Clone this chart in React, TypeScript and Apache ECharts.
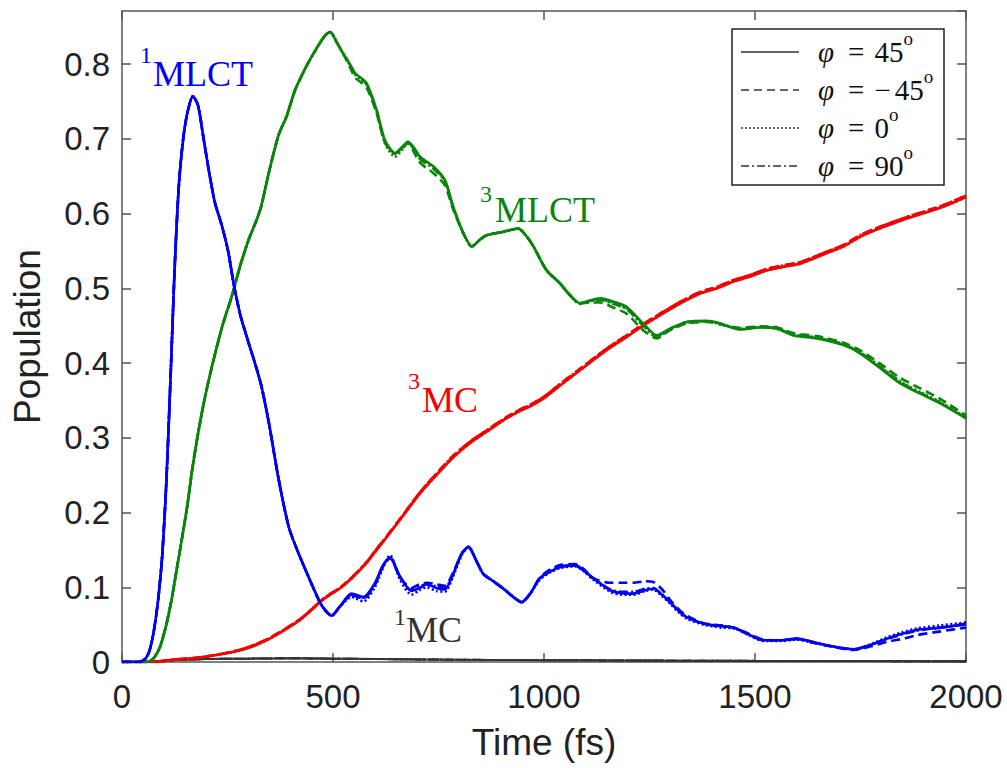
import React, { useEffect, useRef } from "react";
import * as echarts from "echarts";

// ---------- data ----------
const xTicks = [0, 500, 1000, 1500, 2000];

// 1MLCT (blue)
const T_1MLCT = [0, 40, 55, 65, 75, 85, 95, 105, 115, 125, 135, 145, 155, 168, 180, 192, 205, 220, 236, 251, 265, 280, 300, 315, 330, 348, 371, 395, 415, 435, 455, 474, 497, 516, 544, 572, 599, 617, 635, 659, 686, 705, 722, 745, 765, 785, 805, 821, 840, 856, 880, 904, 925, 947, 968, 990, 1015, 1040, 1074, 1095, 1117, 1157, 1185, 1212, 1240, 1259, 1280, 1299, 1320, 1338, 1378, 1420, 1449, 1485, 1520, 1560, 1599, 1635, 1670, 1734, 1775, 1813, 1850, 1884, 1940, 2000];
const MLCT1_P45 = [0, 0, 0.004, 0.015, 0.04, 0.08, 0.14, 0.24, 0.38, 0.53, 0.64, 0.7, 0.735, 0.757, 0.745, 0.705, 0.66, 0.615, 0.585, 0.551, 0.505, 0.465, 0.427, 0.4, 0.37, 0.32, 0.245, 0.181, 0.15, 0.123, 0.097, 0.075, 0.062, 0.074, 0.0915, 0.087, 0.105, 0.128, 0.14, 0.114, 0.095, 0.099, 0.104, 0.099, 0.097, 0.118, 0.145, 0.154, 0.135, 0.118, 0.108, 0.098, 0.088, 0.08, 0.092, 0.112, 0.121, 0.127, 0.129, 0.122, 0.112, 0.096, 0.092, 0.0915, 0.096, 0.098, 0.09, 0.08, 0.068, 0.06, 0.0514, 0.048, 0.046, 0.037, 0.029, 0.029, 0.0313, 0.027, 0.0224, 0.017, 0.023, 0.0313, 0.038, 0.043, 0.046, 0.051];
const MLCT1_M45 = [0, 0, 0.004, 0.015, 0.04, 0.08, 0.14, 0.24, 0.38, 0.53, 0.64, 0.7, 0.735, 0.757, 0.745, 0.705, 0.66, 0.615, 0.585, 0.551, 0.505, 0.465, 0.427, 0.4, 0.37, 0.32, 0.245, 0.181, 0.15, 0.123, 0.097, 0.075, 0.062, 0.074, 0.089, 0.085, 0.103, 0.126, 0.139, 0.113, 0.099, 0.104, 0.106, 0.104, 0.102, 0.12, 0.145, 0.154, 0.135, 0.118, 0.108, 0.098, 0.088, 0.08, 0.092, 0.113, 0.124, 0.13, 0.131, 0.124, 0.112, 0.106, 0.106, 0.106, 0.108, 0.107, 0.097, 0.083, 0.07, 0.062, 0.052, 0.049, 0.046, 0.038, 0.03, 0.029, 0.031, 0.026, 0.022, 0.016, 0.021, 0.027, 0.031, 0.036, 0.041, 0.046];
const MLCT1_P0 = [0, 0, 0.004, 0.015, 0.04, 0.08, 0.14, 0.24, 0.38, 0.53, 0.64, 0.7, 0.735, 0.757, 0.745, 0.705, 0.66, 0.615, 0.585, 0.551, 0.505, 0.465, 0.427, 0.4, 0.37, 0.32, 0.245, 0.181, 0.15, 0.123, 0.097, 0.075, 0.062, 0.074, 0.087, 0.081, 0.1, 0.124, 0.143, 0.11, 0.09, 0.096, 0.1, 0.095, 0.094, 0.115, 0.143, 0.154, 0.135, 0.118, 0.108, 0.098, 0.088, 0.08, 0.092, 0.11, 0.12, 0.126, 0.128, 0.121, 0.11, 0.094, 0.09, 0.09, 0.095, 0.097, 0.088, 0.078, 0.066, 0.058, 0.05, 0.046, 0.045, 0.036, 0.028, 0.028, 0.03, 0.026, 0.022, 0.017, 0.024, 0.033, 0.04, 0.045, 0.049, 0.053];
const MLCT1_P90 = [0, 0, 0.004, 0.015, 0.04, 0.08, 0.14, 0.24, 0.38, 0.53, 0.64, 0.7, 0.735, 0.757, 0.745, 0.705, 0.66, 0.615, 0.585, 0.551, 0.505, 0.465, 0.427, 0.4, 0.37, 0.32, 0.245, 0.181, 0.15, 0.123, 0.097, 0.075, 0.062, 0.074, 0.09, 0.086, 0.104, 0.127, 0.14, 0.114, 0.096, 0.101, 0.104, 0.101, 0.099, 0.118, 0.145, 0.154, 0.135, 0.118, 0.108, 0.098, 0.088, 0.08, 0.092, 0.112, 0.122, 0.128, 0.13, 0.122, 0.112, 0.097, 0.094, 0.094, 0.098, 0.099, 0.09, 0.08, 0.068, 0.06, 0.051, 0.048, 0.046, 0.037, 0.029, 0.029, 0.031, 0.027, 0.022, 0.017, 0.023, 0.031, 0.037, 0.042, 0.046, 0.05];

// 3MLCT (green)
const T_3MLCT = [0, 60, 75, 90, 105, 118, 130, 142, 155, 166, 180, 195, 213, 237, 261, 280, 300, 318, 330, 348, 371, 390, 410, 435, 460, 481, 493, 510, 524, 540, 552, 565, 580, 603, 623, 647, 662, 678, 692, 706, 738, 765, 785, 809, 829, 848, 864, 904, 939, 958, 975, 1006, 1038, 1058, 1085, 1110, 1133, 1165, 1196, 1235, 1267, 1299, 1338, 1386, 1417, 1465, 1512, 1552, 1591, 1647, 1710, 1749, 1797, 1844, 1892, 1939, 2000];
const MLCT3_P45 = [0, 0, 0.005, 0.02, 0.05, 0.085, 0.125, 0.165, 0.21, 0.256, 0.305, 0.35, 0.395, 0.448, 0.491, 0.53, 0.565, 0.59, 0.61, 0.655, 0.705, 0.73, 0.765, 0.795, 0.82, 0.838, 0.843, 0.828, 0.814, 0.8, 0.788, 0.782, 0.774, 0.739, 0.698, 0.681, 0.688, 0.696, 0.688, 0.676, 0.663, 0.645, 0.609, 0.5735, 0.556, 0.565, 0.571, 0.5757, 0.58, 0.57, 0.556, 0.524, 0.5066, 0.493, 0.48, 0.484, 0.4865, 0.482, 0.475, 0.453, 0.437, 0.446, 0.455, 0.4565, 0.453, 0.445, 0.4476, 0.446, 0.437, 0.433, 0.424, 0.413, 0.393, 0.3727, 0.359, 0.346, 0.326];
const MLCT3_M45 = [0, 0, 0.005, 0.02, 0.05, 0.085, 0.125, 0.165, 0.21, 0.256, 0.305, 0.35, 0.395, 0.448, 0.491, 0.53, 0.565, 0.59, 0.61, 0.655, 0.705, 0.73, 0.765, 0.795, 0.82, 0.838, 0.843, 0.828, 0.814, 0.796, 0.782, 0.776, 0.768, 0.735, 0.695, 0.68, 0.686, 0.694, 0.682, 0.668, 0.654, 0.638, 0.605, 0.5735, 0.556, 0.565, 0.571, 0.5757, 0.58, 0.57, 0.556, 0.524, 0.5066, 0.493, 0.48, 0.481, 0.481, 0.474, 0.466, 0.444, 0.433, 0.444, 0.453, 0.455, 0.452, 0.447, 0.449, 0.448, 0.44, 0.436, 0.427, 0.417, 0.399, 0.38, 0.366, 0.352, 0.33];
const MLCT3_P0 = [0, 0, 0.005, 0.02, 0.05, 0.085, 0.125, 0.165, 0.21, 0.256, 0.305, 0.35, 0.395, 0.448, 0.491, 0.53, 0.565, 0.59, 0.61, 0.655, 0.705, 0.73, 0.765, 0.795, 0.82, 0.838, 0.843, 0.828, 0.814, 0.798, 0.786, 0.78, 0.772, 0.737, 0.694, 0.676, 0.684, 0.694, 0.687, 0.676, 0.662, 0.644, 0.608, 0.5735, 0.556, 0.565, 0.571, 0.5757, 0.58, 0.57, 0.556, 0.524, 0.5066, 0.493, 0.479, 0.483, 0.485, 0.48, 0.473, 0.451, 0.435, 0.445, 0.454, 0.456, 0.452, 0.446, 0.448, 0.447, 0.438, 0.434, 0.425, 0.414, 0.395, 0.375, 0.361, 0.348, 0.327];
const MLCT3_P90 = [0, 0, 0.005, 0.02, 0.05, 0.085, 0.125, 0.165, 0.21, 0.256, 0.305, 0.35, 0.395, 0.448, 0.491, 0.53, 0.565, 0.59, 0.61, 0.655, 0.705, 0.73, 0.765, 0.795, 0.82, 0.838, 0.843, 0.828, 0.814, 0.8, 0.787, 0.781, 0.773, 0.739, 0.697, 0.68, 0.687, 0.696, 0.686, 0.673, 0.66, 0.643, 0.608, 0.5735, 0.556, 0.565, 0.571, 0.5757, 0.58, 0.57, 0.556, 0.524, 0.5066, 0.493, 0.48, 0.483, 0.484, 0.479, 0.472, 0.45, 0.435, 0.446, 0.455, 0.456, 0.453, 0.445, 0.448, 0.446, 0.438, 0.434, 0.425, 0.414, 0.395, 0.375, 0.36, 0.347, 0.327];

// 3MC (red)
const T_3MC = [0, 80, 120, 184, 263, 300, 342, 380, 421, 450, 469, 485, 520, 548, 580, 603, 627, 665, 706, 745, 785, 825, 864, 904, 940, 967, 1000, 1038, 1080, 1117, 1155, 1196, 1235, 1275, 1320, 1370, 1410, 1449, 1490, 1528, 1570, 1607, 1640, 1670, 1710, 1749, 1790, 1828, 1868, 1908, 1950, 2000];
const MC3_A = [0, 0, 0.003, 0.006, 0.0134, 0.019, 0.029, 0.041, 0.056, 0.07, 0.08, 0.087, 0.1, 0.114, 0.133, 0.1495, 0.167, 0.195, 0.2254, 0.25, 0.274, 0.293, 0.308, 0.3236, 0.335, 0.342, 0.353, 0.37, 0.388, 0.404, 0.42, 0.435, 0.45, 0.464, 0.479, 0.493, 0.5, 0.509, 0.516, 0.524, 0.529, 0.533, 0.54, 0.547, 0.556, 0.569, 0.579, 0.587, 0.595, 0.602, 0.61, 0.622];
const MC3_B = [0, 0, 0.003, 0.006, 0.014, 0.02, 0.03, 0.042, 0.057, 0.071, 0.081, 0.088, 0.101, 0.115, 0.134, 0.151, 0.168, 0.196, 0.227, 0.252, 0.276, 0.295, 0.31, 0.325, 0.337, 0.344, 0.355, 0.372, 0.39, 0.406, 0.422, 0.437, 0.452, 0.466, 0.481, 0.495, 0.502, 0.511, 0.518, 0.526, 0.531, 0.535, 0.542, 0.549, 0.558, 0.571, 0.581, 0.589, 0.597, 0.604, 0.612, 0.624];

// 1MC (dark grey)
const T_1MC = [0, 60, 100, 150, 200, 300, 400, 500, 600, 800, 1000, 1200, 1500, 2000];
const MC1 = [0, 0, 0.002, 0.003, 0.004, 0.0045, 0.005, 0.0045, 0.004, 0.003, 0.0025, 0.002, 0.0015, 0.001];

const legendLabels = ["45", "\u221245", "0", "90"];

// ---------- styles ----------
const SANS = "Liberation Sans, Arial, sans-serif";
const SERIF = "Liberation Serif, Times New Roman, serif";
const BLUE = "#0000f5";
const GREEN = "#0a840a";
const RED = "#f50000";
const GREY = "#333333";
const dashTypes: any[] = ["solid", [9, 5], [2, 2.5], [9, 3, 2, 3]];
const legendDash: any[] = [null, [8, 5], [2, 2], [8, 3, 2, 3]];

function zip(t: number[], v: number[]) {
  return t.map((x, i) => [x, v[i]]);
}

export default function App() {
  const ref = useRef<HTMLDivElement>(null);
  useEffect(() => {
    if (!ref.current) return;
    const chart = echarts.init(ref.current, undefined, { renderer: "svg" });

    const species = [
      { name: "1MC", t: T_1MC, vals: [MC1, MC1, MC1, MC1], color: GREY, width: 2 },
      { name: "3MC", t: T_3MC, vals: [MC3_A, MC3_B, MC3_A, MC3_B], color: RED, width: 2.6 },
      { name: "3MLCT", t: T_3MLCT, vals: [MLCT3_P45, MLCT3_M45, MLCT3_P0, MLCT3_P90], color: GREEN, width: 2.6 },
      { name: "1MLCT", t: T_1MLCT, vals: [MLCT1_P45, MLCT1_M45, MLCT1_P0, MLCT1_P90], color: BLUE, width: 2.6 },
    ];
    const series: any[] = [];
    species.forEach((s) => {
      s.vals.forEach((v, k) => {
        series.push({
          type: "line",
          name: s.name + " phi=" + legendLabels[k],
          data: zip(s.t, v),
          showSymbol: false,
          symbol: "none",
          smooth: 0.25,
          lineStyle: { color: s.color, width: s.width, type: dashTypes[k] },
          silent: true,
        });
      });
    });

    const axisColor = "#555555";
    const labelStyle = { fontFamily: SANS, fontSize: 33, color: "#222222" };

    const LH = 46;
    const FS = 29;
    const legendGraphics: any[] = [
      {
        type: "rect",
        shape: { x: 732, y: 29, width: 212, height: 156 },
        style: { fill: "#ffffff", stroke: "#222222", lineWidth: 1.5 },
        z: 100,
      },
    ];
    const rowY = [52, 90, 128, 166];
    rowY.forEach((y, k) => {
      legendGraphics.push({
        type: "line",
        shape: { x1: 741, y1: y, x2: 799, y2: y },
        style: { stroke: "#333333", lineWidth: 1.5, lineDash: legendDash[k] },
        z: 101,
      });
      const num = legendLabels[k];
      const numText = num.charAt(0) === "\u2212" ? "{m|\u2212}{n|" + num.slice(1) + "}" : "{n|" + num + "}";
      legendGraphics.push({
        type: "text",
        x: 818,
        y: y,
        style: {
          text: "{i|\u03c6}{e|=}" + numText + "{o|o}",
          fontFamily: SERIF,
          fontSize: FS,
          lineHeight: LH,
          fill: "#111111",
          verticalAlign: "middle",
          align: "left",
          rich: {
            i: { fontStyle: "italic", fontFamily: SERIF, fontSize: FS, lineHeight: LH, fill: "#111111" },
            e: { fontFamily: SERIF, fontSize: FS, lineHeight: LH, padding: [0, 10, 0, 14], fill: "#111111" },
            m: { fontFamily: SERIF, fontSize: FS, lineHeight: LH, padding: [0, 4, 0, 0], fill: "#111111" },
            n: { fontFamily: SERIF, fontSize: FS, lineHeight: LH, fill: "#111111" },
            o: { fontFamily: SERIF, fontSize: 19, lineHeight: 19, verticalAlign: "top", fill: "#111111" },
          },
        },
        z: 101,
      });
    });

    const ann = (sup: string, main: string, color: string, sx: number, sy: number, mx: number, my: number) => [
      { type: "text", x: sx, y: sy, style: { text: sup, fontFamily: SERIF, fontSize: 24, fill: color, verticalAlign: "middle" }, z: 50 },
      { type: "text", x: mx, y: my, style: { text: main, fontFamily: SERIF, fontSize: 36, fill: color, verticalAlign: "middle" }, z: 50 },
    ];

    const graphics: any[] = [
      ...ann("1", "MLCT", BLUE, 140, 55, 153, 74),
      ...ann("3", "MLCT", GREEN, 480, 194, 495, 210),
      ...ann("3", "MC", RED, 408, 381, 422, 400),
      ...ann("1", "MC", GREY, 394, 617, 406, 630),
      ...legendGraphics,
    ];

    chart.setOption({
      animation: false,
      backgroundColor: "#ffffff",
      grid: { left: 122, right: 41, top: 11, bottom: 106, containLabel: false },
      xAxis: [
        {
          type: "value",
          min: xTicks[0],
          max: xTicks[xTicks.length - 1],
          interval: 500,
          position: "bottom",
          name: "Time (fs)",
          nameLocation: "middle",
          nameGap: 62,
          nameTextStyle: { fontFamily: SANS, fontSize: 37, color: "#222222" },
          axisLine: { show: true, onZero: false, lineStyle: { color: axisColor, width: 1.5 } },
          axisTick: { show: true, inside: true, length: 9, lineStyle: { color: axisColor, width: 1.5 } },
          axisLabel: { ...labelStyle, margin: 18, formatter: (v: number) => String(v) },
          splitLine: { show: false },
        },
        {
          type: "value",
          min: xTicks[0],
          max: xTicks[xTicks.length - 1],
          interval: 500,
          position: "top",
          axisLine: { show: true, onZero: false, lineStyle: { color: axisColor, width: 1.5 } },
          axisTick: { show: true, inside: true, length: 9, lineStyle: { color: axisColor, width: 1.5 } },
          axisLabel: { show: false },
          splitLine: { show: false },
        },
      ],
      yAxis: [
        {
          type: "value",
          min: 0,
          max: 0.871,
          interval: 0.1,
          position: "left",
          name: "Population",
          nameLocation: "middle",
          nameGap: 76,
          nameTextStyle: { fontFamily: SANS, fontSize: 37, color: "#222222" },
          axisLine: { show: true, onZero: false, lineStyle: { color: axisColor, width: 1.5 } },
          axisTick: { show: true, inside: true, length: 9, lineStyle: { color: axisColor, width: 1.5 } },
          axisLabel: { ...labelStyle, margin: 12, showMaxLabel: false, formatter: (v: number) => (v === 0 ? "0" : String(Math.round(v * 10) / 10)) },
          splitLine: { show: false },
        },
        {
          type: "value",
          min: 0,
          max: 0.871,
          interval: 0.1,
          position: "right",
          axisLine: { show: true, onZero: false, lineStyle: { color: axisColor, width: 1.5 } },
          axisTick: { show: true, inside: true, length: 9, lineStyle: { color: axisColor, width: 1.5 } },
          axisLabel: { show: false },
          splitLine: { show: false },
        },
      ],
      series,
      graphic: graphics,
    });

    return () => chart.dispose();
  }, []);

  return (
    <div
      ref={ref}
      style={{ position: "absolute", left: 0, top: 0, width: 1007, height: 768, background: "#ffffff" }}
    />
  );
}
